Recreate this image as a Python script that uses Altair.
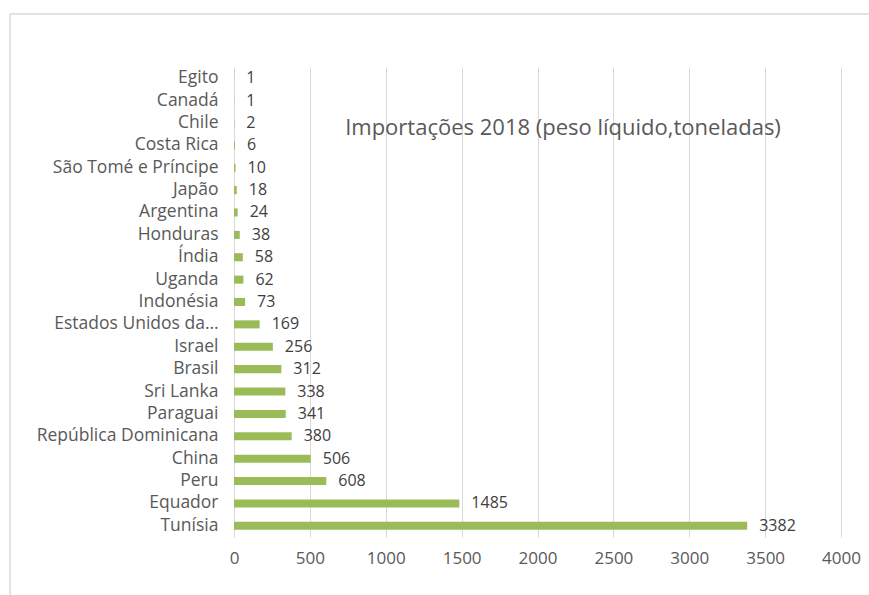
import altair as alt
import pandas as pd

countries = ["Egito", "Canadá", "Chile", "Costa Rica", "São Tomé e Príncipe", "Japão",
             "Argentina", "Honduras", "Índia", "Uganda", "Indonésia", "Estados Unidos da…",
             "Israel", "Brasil", "Sri Lanka", "Paraguai", "República Dominicana", "China",
             "Peru", "Equador", "Tunísia"]
values = [1, 1, 2, 6, 10, 18, 24, 38, 58, 62, 73, 169, 256, 312, 338, 341, 380, 506, 608, 1485, 3382]
x_ticks = [0, 500, 1000, 1500, 2000, 2500, 3000, 3500, 4000]
title_text = "Importações 2018 (peso líquido,toneladas)"

df = pd.DataFrame({"country": countries, "value": values})

FONT = "Open Sans"
GRAY = "#595959"
W, H = 607, 470
PL, PT = 234, 67

y_enc = alt.Y("country:N", sort=countries, title=None,
              scale=alt.Scale(paddingInner=0.64, paddingOuter=0.32),
              axis=alt.Axis(domain=False, ticks=False, labelPadding=16, labelFontSize=17.5,
                            labelColor=GRAY, labelFont=FONT, grid=False, labelLimit=300))
x_enc = alt.X("value:Q", title=None,
              scale=alt.Scale(domain=[0, 4000], nice=False),
              axis=alt.Axis(values=x_ticks, format="d", domain=False, ticks=False, grid=True,
                            gridColor="#d9d9d9", labelPadding=13, labelFontSize=17,
                            labelFlush=False, labelOverlap=False,
                            labelColor=GRAY, labelFont=FONT))

base = alt.Chart(df)
bars = base.mark_bar(color="#9BBB59").encode(x=x_enc, y=y_enc)
labels = base.mark_text(align="left", baseline="middle", dx=12, fontSize=16,
                        font=FONT, color="#404040").encode(
    x="value:Q", y=alt.Y("country:N", sort=countries), text="value:Q")

title = alt.Chart(pd.DataFrame({"t": [title_text]})).mark_text(
    fontSize=22, font=FONT, color=GRAY, align="center", baseline="middle").encode(
    x=alt.value(329), y=alt.value(61), text="t:N")

frame_top = alt.Chart(pd.DataFrame({"a": [0]})).mark_rule(color="#d9d9d9", strokeWidth=1.5).encode(
    x=alt.value(10 - PL), x2=alt.value(869 - PL), y=alt.value(14 - PT))
frame_left = alt.Chart(pd.DataFrame({"a": [0]})).mark_rule(color="#d9d9d9", strokeWidth=1.5).encode(
    x=alt.value(10 - PL), y=alt.value(14 - PT), y2=alt.value(600 - PT))

chart = alt.layer(bars, labels, title, frame_top, frame_left).properties(
    width=W, height=H,
    autosize=alt.AutoSizeParams(type="none"),
    padding={"left": PL, "top": PT, "right": 869 - PL - W, "bottom": 595 - PT - H},
    background="white",
).configure_view(stroke=None)

chart.save("out.html", embed_options={"renderer": "svg", "actions": False})
